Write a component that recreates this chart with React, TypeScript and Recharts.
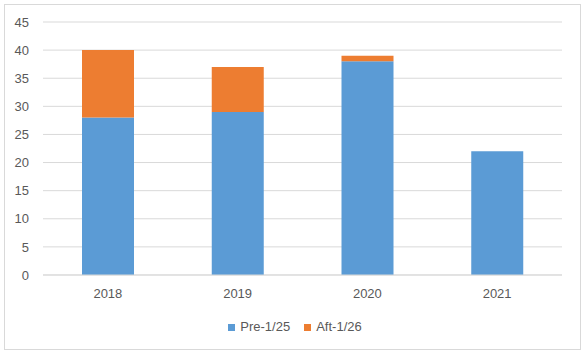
import { BarChart, Bar, XAxis, YAxis, CartesianGrid, Legend } from "recharts";

const years = ["2018", "2019", "2020", "2021"];
const preValues = [28, 29, 38, 22];
const aftValues = [12, 8, 1, 0];
const yTicks = [0, 5, 10, 15, 20, 25, 30, 35, 40, 45];

const seriesInfo = [
  { key: "pre", name: "Pre-1/25", color: "#5B9BD5" },
  { key: "aft", name: "Aft-1/26", color: "#ED7D31" },
];

const data = years.map((year, i) => ({
  year,
  pre: preValues[i],
  aft: aftValues[i],
}));

const FONT = "'Liberation Sans', Arial, sans-serif";
const TEXT = "#595959";

// legend drawn as plain html so spacing matches the excel look
const renderLegend = () => (
  <div
    style={{
      display: "flex",
      justifyContent: "center",
      paddingTop: 15,
      fontFamily: FONT,
      fontSize: 13,
      color: TEXT,
      lineHeight: "14px",
      marginLeft: 28,
    }}
  >
    {seriesInfo.map((s, i) => (
      <div
        key={s.key}
        style={{
          display: "flex",
          alignItems: "center",
          marginLeft: i ? 14 : 0,
        }}
      >
        <span
          style={{
            width: 7,
            height: 7,
            background: s.color,
            display: "inline-block",
            marginRight: 5,
          }}
        />
        <span>{s.name}</span>
      </div>
    ))}
  </div>
);

const App = () => {
  return (
    <div
      style={{
        position: "fixed",
        top: 0,
        left: 0,
        width: 585,
        height: 354,
        background: "#fff",
      }}
    >
      <div
        style={{
          position: "absolute",
          left: 4,
          top: 4,
          width: 575,
          height: 344,
          border: "1px solid #d9d9d9",
        }}
      />
      <div style={{ position: "absolute", left: 0, top: 0 }}>
        <BarChart
          width={585}
          height={354}
          data={data}
          margin={{ top: 22, right: 23, bottom: 0, left: 0 }}
          barSize={52}
        >
          <CartesianGrid vertical={false} stroke="#d9d9d9" />
          <XAxis
            dataKey="year"
            height={30}
            tickLine={false}
            tickSize={0}
            tickMargin={14}
            axisLine={{ stroke: "#d9d9d9" }}
            tick={{ fill: TEXT, fontSize: 13, fontFamily: FONT }}
          />
          <YAxis
            width={43}
            domain={[0, 45]}
            ticks={yTicks}
            interval={0}
            axisLine={false}
            tickLine={false}
            tickSize={0}
            tickMargin={14}
            tick={{ fill: TEXT, fontSize: 13, fontFamily: FONT }}
          />
          <Legend verticalAlign="bottom" height={49} content={renderLegend} />
          {seriesInfo.map((s) => (
            <Bar
              key={s.key}
              dataKey={s.key}
              name={s.name}
              stackId="a"
              fill={s.color}
              isAnimationActive={false}
            />
          ))}
        </BarChart>
      </div>
    </div>
  );
};

export default App;
